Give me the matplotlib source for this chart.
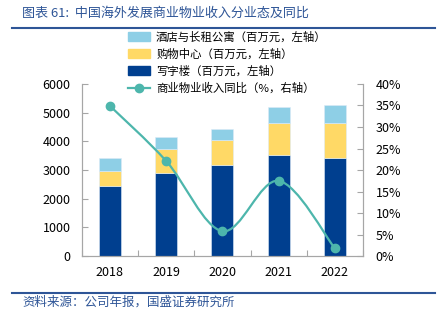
import matplotlib
matplotlib.use("Agg")
import matplotlib.pyplot as plt
from matplotlib.path import Path
from matplotlib.patches import PathPatch, Patch
from matplotlib.lines import Line2D
from matplotlib.ticker import FuncFormatter, FixedLocator

plt.rcParams["font.family"] = ["Noto Sans CJK SC", "DejaVu Sans"]

years = ["2018", "2019", "2020", "2021", "2022"]
office = [2430, 2906, 3174, 3523, 3430]
mall = [545, 837, 872, 1105, 1198]
hotel = [443, 417, 373, 580, 639]
yoy = [34.9, 22.1, 5.8, 17.5, 1.8]

c_office = "#003F8F"
c_mall = "#FFD966"
c_hotel = "#8ECFE6"
c_line = "#4DB6AC"
c_axis = "#A6A6A6"
c_blue = "#2E5597"

fig = plt.figure(figsize=(4.4, 3.23), dpi=100)
ax = fig.add_axes([0.186, 0.207, 0.639, 0.533])
ax2 = ax.twinx()

x = list(range(len(years)))
w = 0.39
ax.bar(x, office, w, color=c_office, edgecolor="#DDEBF7", linewidth=0.4, zorder=2)
bottom2 = [o for o in office]
ax.bar(x, mall, w, bottom=bottom2, color=c_mall, edgecolor="#DDEBF7", linewidth=0.4, zorder=2)
bottom3 = [o + m for o, m in zip(office, mall)]
ax.bar(x, hotel, w, bottom=bottom3, color=c_hotel, edgecolor="#DDEBF7", linewidth=0.4, zorder=2)

# smoothed line (Catmull-Rom -> Bezier)
pts = list(zip(x, yoy))
verts = [pts[0]]
codes = [Path.MOVETO]
n = len(pts)
for i in range(n - 1):
    p0 = pts[i - 1] if i > 0 else pts[i]
    p1 = pts[i]
    p2 = pts[i + 1]
    p3 = pts[i + 2] if i + 2 < n else pts[i + 1]
    c1 = (p1[0] + (p2[0] - p0[0]) / 6, p1[1] + (p2[1] - p0[1]) / 6)
    c2 = (p2[0] - (p3[0] - p1[0]) / 6, p2[1] - (p3[1] - p1[1]) / 6)
    verts += [c1, c2, p2]
    codes += [Path.CURVE4] * 3
ax2.add_patch(PathPatch(Path(verts, codes), fill=False, edgecolor=c_line, lw=1.6, zorder=3))
ax2.plot(x, yoy, linestyle="none", marker="o", markersize=6, color=c_line, zorder=4)

ax.set_xlim(-0.5, len(years) - 0.5)
ax.set_ylim(0, 6000)
ax.set_yticks(range(0, 6001, 1000))
ax2.set_ylim(0, 40)
ax2.set_yticks(range(0, 41, 5))
ax2.yaxis.set_major_formatter(FuncFormatter(lambda v, p: f"{int(v)}%"))

ax.xaxis.set_major_locator(FixedLocator([i - 0.5 for i in range(len(years) + 1)]))
ax.xaxis.set_minor_locator(FixedLocator(x))
ax.set_xticklabels([], minor=False)
ax.set_xticklabels(years, minor=True)
ax.tick_params(axis="x", which="major", direction="in", length=4, color=c_axis)
ax.tick_params(axis="x", which="minor", length=0, labelsize=9, pad=7)
ax.tick_params(axis="y", direction="in", length=4, color=c_axis, labelsize=9, pad=8)
ax2.tick_params(axis="y", direction="in", length=4, color=c_axis, labelsize=9, pad=9)

for a in (ax, ax2):
    a.spines["top"].set_visible(False)
    for s in ("left", "right", "bottom"):
        a.spines[s].set_color(c_axis)
        a.spines[s].set_linewidth(0.8)

handles = [
    Patch(color=c_hotel),
    Patch(color=c_mall),
    Patch(color=c_office),
    Line2D([], [], color=c_line, lw=1.6, marker="o", markersize=6),
]
labels = [
    "酒店与长租公寓（百万元，左轴）",
    "购物中心（百万元，左轴）",
    "写字楼（百万元，左轴）",
    "商业物业收入同比（%，右轴）",
]
fig.legend(handles, labels, loc="upper left", bbox_to_anchor=(0.29, 0.903),
           frameon=False, fontsize=8.2, handlelength=2.0, handleheight=0.8,
           handletextpad=0.5, labelspacing=0.5, borderaxespad=0, borderpad=0)

fig.text(0.05, 0.958, "图表 61:  中国海外发展商业物业收入分业态及同比", fontsize=9.4,
         color=c_blue, style="italic", va="center", ha="left")
fig.add_artist(Line2D([0.027, 0.989], [0.913, 0.913], color=c_blue, lw=1.5))
fig.add_artist(Line2D([0.027, 0.989], [0.092, 0.092], color=c_blue, lw=1.5))
fig.text(0.05, 0.064, "资料来源：公司年报，国盛证券研究所", fontsize=9,
         color=c_blue, style="italic", va="center", ha="left")

fig.savefig("out.png", dpi=100)
